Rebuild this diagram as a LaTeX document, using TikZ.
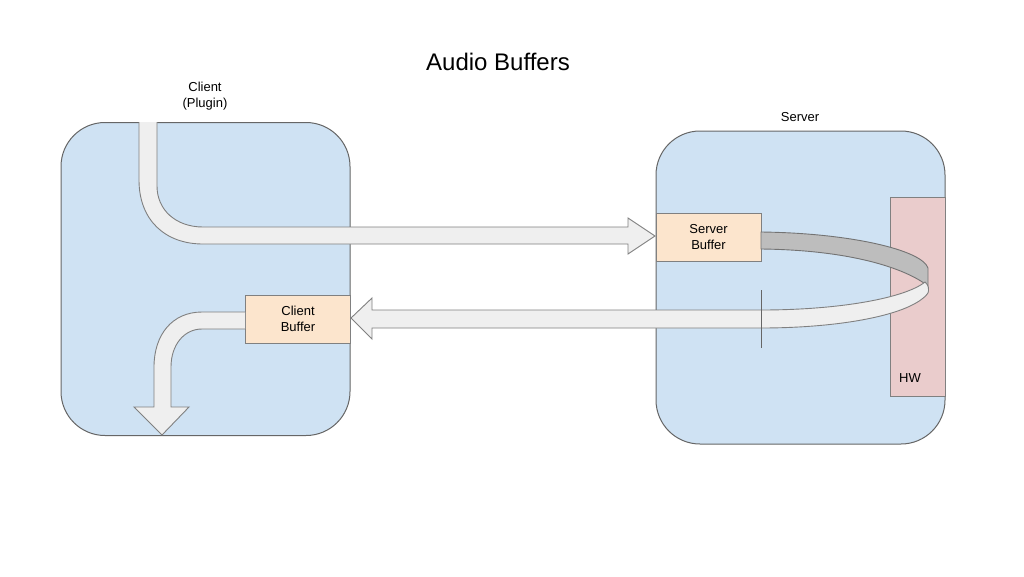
\documentclass[tikz,border=0pt]{standalone}
\usepackage{fontspec}
\setmainfont{Liberation Sans}
\begin{document}
\begin{tikzpicture}[x=1pt,y=-1pt,
  box/.style={draw=black!60,line width=1pt,fill=boxblue,rounded corners=44pt,minimum width=289pt,minimum height=313pt,inner sep=0pt},
  buf/.style={draw=black!50,line width=0.8pt,fill=bufpeach,minimum width=105pt,minimum height=48pt,inner sep=0pt,align=center,font=\fontsize{13}{16}\selectfont},
  lbl/.style={align=center,font=\fontsize{13}{16}\selectfont,inner sep=0pt},
  band/.style={draw=black!50,line width=0.9pt,fill=bandgray},
  backband/.style={draw=black!55,line width=0.9pt,fill=backgray},
]
\definecolor{boxblue}{HTML}{CFE2F3}
\definecolor{bufpeach}{HTML}{FCE5CD}
\definecolor{hwpink}{HTML}{EACCCC}
\definecolor{bandgray}{HTML}{EFEFEF}
\definecolor{backgray}{HTML}{BDBDBD}
\useasboundingbox (0,0) rectangle (1024,576);
\fill[white] (0,0) rectangle (1024,576);

\node[font=\fontsize{24}{28}\selectfont,inner sep=0pt] (title) at (498,62) {Audio Buffers};
\node[lbl] (clientlbl) at (205,96) {Client\\(Plugin)};
\node[lbl] (serverlbl) at (800,117) {Server};

\node[box] (client) at (205.5,279) {};
\node[box] (server) at (800.5,287.5) {};

\node[draw=black!50,line width=0.8pt,fill=hwpink,minimum width=55pt,minimum height=199pt,inner sep=0pt] (hw) at (917.5,296.5) {};
\node[lbl,anchor=west] (hwlbl) at (899,378) {HW};

\node[buf] (sbuf) at (708.5,237) {Server\\Buffer};
\node[buf] (cbuf) at (298,319) {Client\\Buffer};

% top arrow: client -> server buffer
\draw[band] (139,122) -- (139,180) .. controls (139,220) and (165,244) .. (203,244)
  -- (628,244) -- (628,254) -- (655,236) -- (628,218) -- (628,227) -- (203,227)
  .. controls (176,227) and (157,210) .. (157,186) -- (157,122);

% back of ring (gray)
\draw[backband] (761,232) .. controls (850,233) and (922,250) .. (928,268)
  -- (928,286) .. controls (905,268) and (850,250) .. (761,249) -- cycle;

% front of ring and return arrow to client buffer
\draw[band] (372,310) -- (761,310) .. controls (840,310) and (905,298) .. (925,282)
  .. controls (929,285) and (929,290) .. (928,293)
  .. controls (912,315) and (840,328) .. (761,328) -- (372,328) -- (372,339)
  -- (351,318) -- (372,298) -- cycle;

% tick mark
\coordinate (tt) at (761,290);
\coordinate (tb) at (761,348);
\draw[black!60,line width=0.9pt] (tt) -- (tb);

% client output arrow
\draw[band] (245,312) -- (202,312) .. controls (172,312) and (154,335) .. (154,367)
  -- (154,407) -- (134,407) -- (162,435) -- (189,407) -- (171,407) -- (171,367)
  .. controls (171,345) and (184,329) .. (202,329) -- (245,329);
\end{tikzpicture}
\end{document}
